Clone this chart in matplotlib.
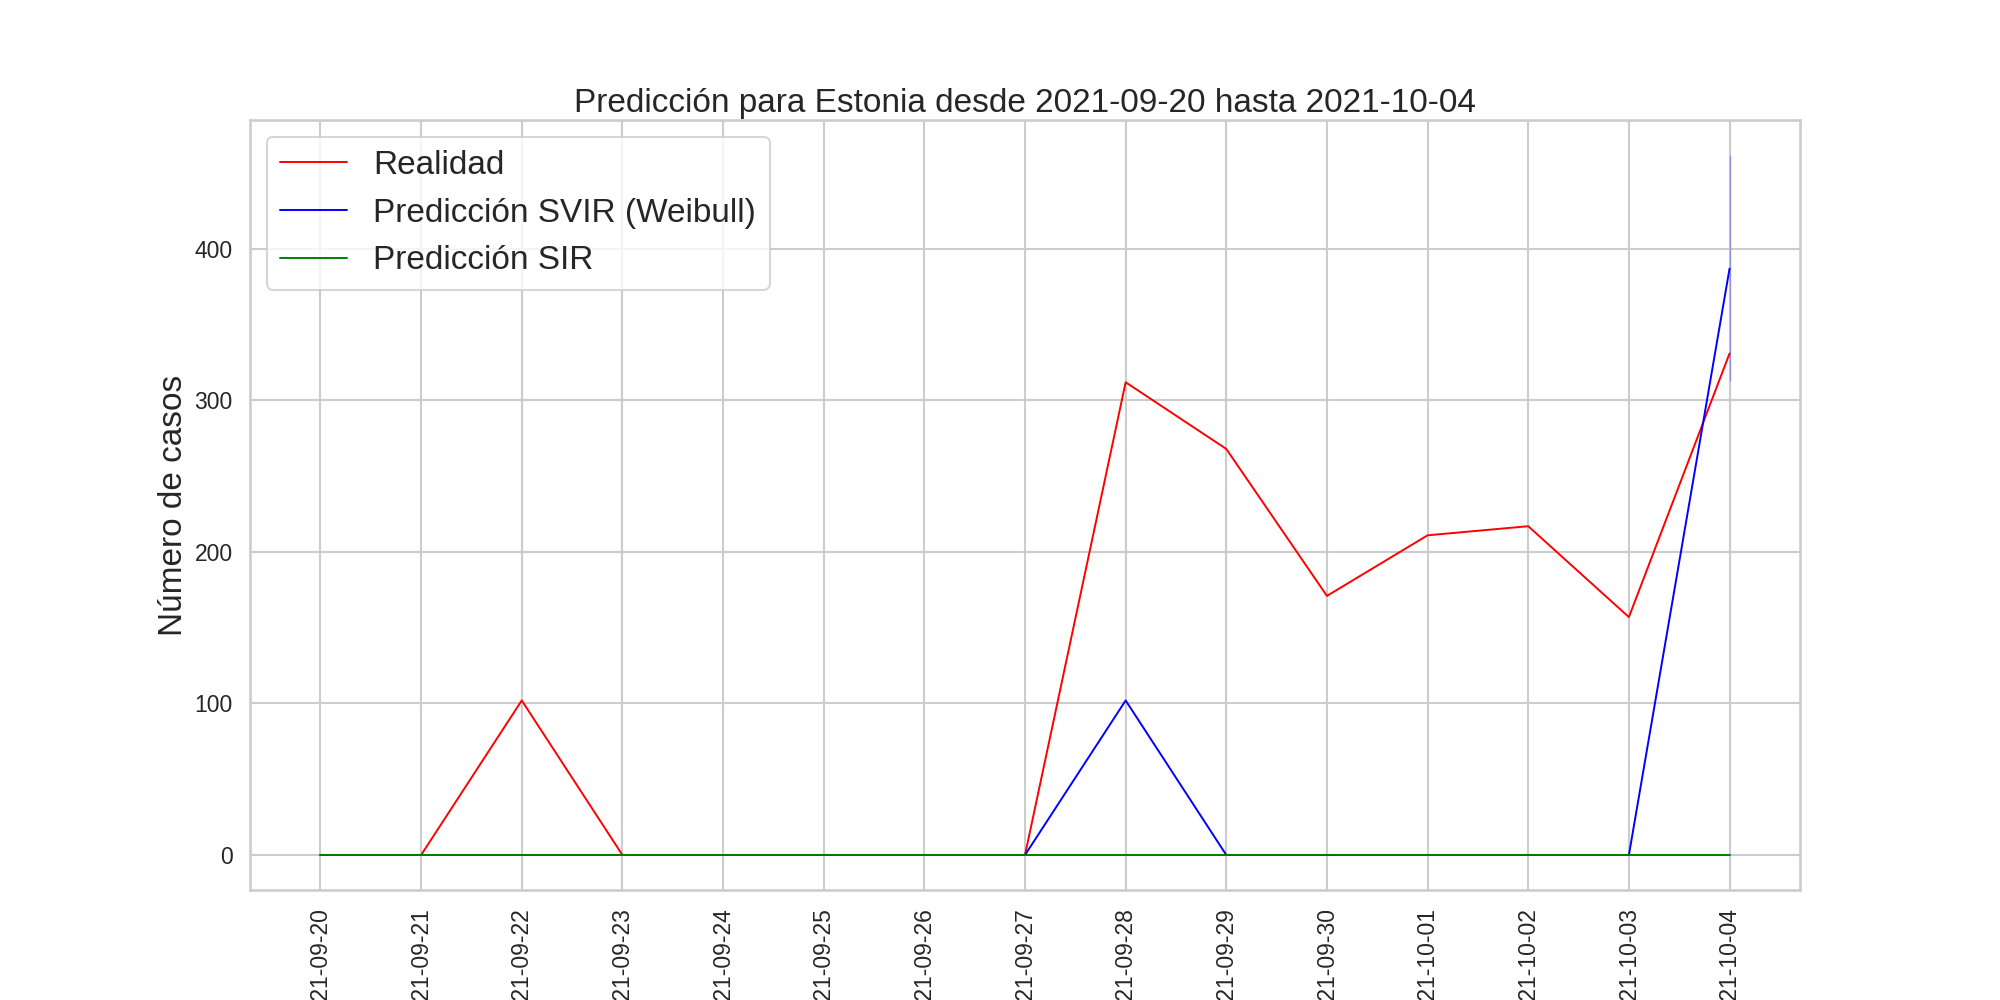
import matplotlib
matplotlib.use("Agg")
import matplotlib.pyplot as plt
import seaborn as sns

dates = ["2021-09-20", "2021-09-21", "2021-09-22", "2021-09-23", "2021-09-24",
         "2021-09-25", "2021-09-26", "2021-09-27", "2021-09-28", "2021-09-29",
         "2021-09-30", "2021-10-01", "2021-10-02", "2021-10-03", "2021-10-04"]
realidad = [0, 0, 102, 0, 0, 0, 0, 0, 312, 268, 171, 211, 217, 157, 331]
svir = [0, 0, 0, 0, 0, 0, 0, 0, 102, 0, 0, 0, 0, 0, 387]
sir = [0, 0, 0, 0, 0, 0, 0, 0, 0, 0, 0, 0, 0, 0, 0]
svir_band_low = 313
svir_band_high = 462

sns.set_theme(style="whitegrid", context="talk")
plt.rcParams['font.family'] = ['Liberation Sans', 'DejaVu Sans']

fig, ax = plt.subplots(figsize=(20, 10), dpi=100)
x = list(range(len(dates)))
ax.plot(x, realidad, color="red", lw=1.4, label="Realidad")
ax.plot(x, svir, color="blue", lw=1.4, label="Predicción SVIR (Weibull)")
ax.vlines(x[-1], svir_band_low, svir_band_high, color="blue", alpha=0.3, lw=1)
ax.plot(x, sir, color="green", lw=1.4, label="Predicción SIR")

ax.set_xticks(x)
ax.set_xticklabels(dates, rotation=90, fontsize=16.5)
ax.tick_params(axis="y", labelsize=16.5)
ax.set_title("Predicción para Estonia desde 2021-09-20 hasta 2021-10-04", fontsize=24)
ax.set_ylabel("Número de casos", fontsize=24)
ax.legend(loc="upper left", fontsize=24)

fig.savefig("out.png", dpi=100)
